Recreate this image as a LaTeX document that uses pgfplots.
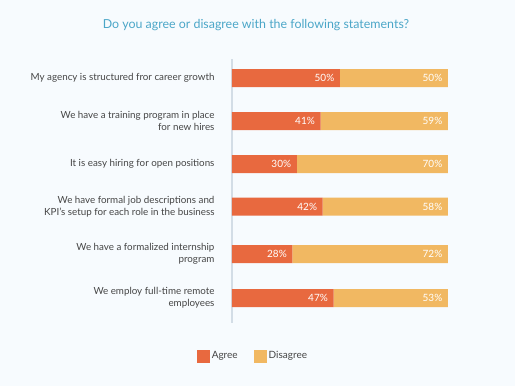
\documentclass[border=0pt]{standalone}
\usepackage{pgfplots}
\pgfplotsset{compat=1.18}
\usepackage{fontspec}
\setmainfont{Lato}
\definecolor{agree}{HTML}{E8693F}
\definecolor{disagree}{HTML}{F1B862}
\definecolor{ttl}{HTML}{4BA6C8}
\definecolor{lbl}{HTML}{454545}
\definecolor{bg}{HTML}{F7FBFE}
\definecolor{axln}{HTML}{D3DDE6}
\begin{document}
\begin{tikzpicture}
\fill[bg] (0pt,0pt) rectangle (515pt,386pt);
\node[text=ttl, font=\fontsize{12.4}{14}\selectfont] at (256pt,361pt) {Do you agree or disagree with the following statements?};
\begin{axis}[
  at={(232pt,63pt)}, anchor=south west, scale only axis,
  width=216pt, height=264pt,
  xbar stacked, bar width=18pt,
  xmin=0, xmax=100, ymin=59, ymax=323, y dir=reverse,
  axis x line=none, axis y line*=left,
  axis line style={axln, line width=1.3pt},
  ytick={78,121,164,206.5,254,298},
  yticklabels={{My agency is structured fror career growth},{We have a training program in place\\for new hires},{It is easy hiring for open positions},{We have formal job descriptions and\\KPI’s setup for each role in the business},{We have a formalized internship\\program},{We employ full-time remote\\employees}},
  major tick length=0pt,
  yticklabel style={align=right, font=\fontsize{9.8}{12}\selectfont, text=lbl, xshift=-14pt},
  clip=false,
  /pgf/number format/assume math mode=true,
  visualization depends on={rawx \as \rx},
  nodes near coords={\makebox[0pt][r]{\pgfmathprintnumber[fixed,precision=0]{\rx}\%}},
  every node near coord/.append style={anchor=east, inner sep=0pt, xshift={\rx*1.08pt-5pt}, text=white, font=\fontsize{10}{11}\selectfont},
  legend style={at={(0.097,-0.125)}, anchor=center, draw=none, fill=none, legend columns=2, font=\fontsize{10}{11}\selectfont, text=lbl, /tikz/every even column/.append style={column sep=14pt}},
  legend image code/.code={\fill[#1] (0pt,-6.5pt) rectangle (13pt,6.5pt);},
]
\addplot[fill=agree, draw=none] coordinates {(50,78) (41,121) (30,164) (42,206.5) (28,254) (47,298)};
\addlegendentry{Agree}
\addplot[fill=disagree, draw=none] coordinates {(50,78) (59,121) (70,164) (58,206.5) (72,254) (53,298)};
\addlegendentry{Disagree}
\end{axis}
\end{tikzpicture}
\end{document}
